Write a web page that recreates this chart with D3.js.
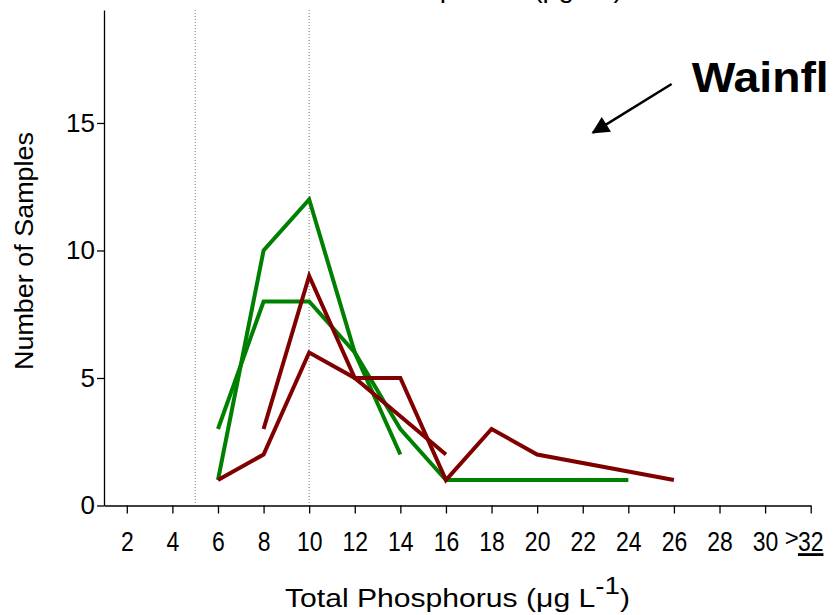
<!DOCTYPE html>
<html>
<head>
<meta charset="utf-8">
<script src="https://cdn.jsdelivr.net/npm/d3@7"></script>
<style>
body { margin: 0; background: #fff; }
svg { display: block; font-family: "Liberation Sans", Arial, sans-serif; }
</style>
</head>
<body>
<div class="chart"></div>
<script>
const width = 833;
const height = 615;
const margin = ({top: 10, right: 22, bottom: 110, left: 104});

// tick labels / reference lines
const xTicks = [2, 4, 6, 8, 10, 12, 14, 16, 18, 20, 22, 24, 26, 28, 30, 32];
const yTicks = [0, 5, 10, 15];
const refLines = [5, 10];

// series (TP class, number of samples)
const greenHighX = [6, 8, 10, 12, 14];
const greenHighY = [1, 10, 12, 6, 2];
const greenLowX = [6, 8, 10, 12, 14, 16, 18, 20, 22, 24];
const greenLowY = [3, 8, 8, 6, 3, 1, 1, 1, 1, 1];
const redHighX = [8, 10, 12, 14, 16, 18, 20, 26];
const redHighY = [3, 9, 5, 5, 1, 3, 2, 1];
const redLowX = [6, 8, 10, 12, 14, 16];
const redLowY = [1, 2, 6, 5, 3.5, 2];

const series = [
    {color: "#008000", x: greenHighX, y: greenHighY},
    {color: "#008000", x: greenLowX, y: greenLowY},
    {color: "#800000", x: redHighX, y: redHighY},
    {color: "#800000", x: redLowX, y: redLowY}
];

const xScale = d3.scaleLinear()
    .domain([1, 32])
    .range([margin.left, 810.7]);

const yScale = d3.scaleLinear()
    .domain([0, 19.43])
    .range([505.5, margin.top]);

const svg = d3.select('.chart').append('svg')
    .attr("width", width)
    .attr("height", height);

// dotted reference lines
svg.selectAll('.ref')
    .data(refLines)
    .enter()
    .append('line')
    .attr('x1', d => xScale(d))
    .attr('x2', d => xScale(d))
    .attr('y1', yScale(19.43))
    .attr('y2', yScale(0))
    .attr('stroke', '#777')
    .attr('stroke-width', 1)
    .attr('stroke-dasharray', '1,2');

const xAxis = d3.axisBottom(xScale)
    .tickValues(xTicks)
    .tickSize(8)
    .tickSizeOuter(0)
    .tickFormat(d => d === 32 ? "" : d);

const yAxis = d3.axisLeft(yScale)
    .tickValues(yTicks)
    .tickSize(7)
    .tickSizeOuter(0);

const gx = svg.append('g')
    .attr('transform', `translate(0,${yScale(0)})`)
    .call(xAxis);

// condensed tick labels like the original
gx.selectAll('text')
    .attr('y', 26)
    .attr('dy', '0.71em')
    .attr('fill', '#000')
    .style('font-size', '28px')
    .attr('transform', 'scale(0.82,1)');

const gy = svg.append('g')
    .attr('transform', `translate(${margin.left},0)`)
    .call(yAxis);

gy.selectAll('text')
    .attr('x', -9)
    .attr('fill', '#000')
    .style('font-size', '26px');

svg.selectAll('.domain, .tick line')
    .attr('stroke', '#000')
    .attr('stroke-width', 1.3);

// last label ">32" with underline
const lastX = xScale(32);
svg.append('text')
    .attr('x', lastX)
    .attr('y', 551)
    .attr('text-anchor', 'middle')
    .attr('transform', `translate(${lastX * 0.18},0) scale(0.82,1)`)
    .style('font-size', '28px')
    .style('text-decoration', 'underline')
    .text('32');
svg.append('text')
    .attr('x', lastX - 12)
    .attr('y', 546)
    .attr('text-anchor', 'end')
    .style('font-size', '24px')
    .text('>');

// data lines
const line = d3.line()
    .x(d => xScale(d[0]))
    .y(d => yScale(d[1]));

svg.selectAll('.series')
    .data(series)
    .enter()
    .append('path')
    .attr('fill', 'none')
    .attr('stroke', d => d.color)
    .attr('stroke-width', 4)
    .attr('stroke-linejoin', 'miter')
    .attr('d', d => line(d3.zip(d.x, d.y)));

// axis titles
svg.append('text')
    .attr('transform', 'translate(33,251) rotate(-90)')
    .attr('text-anchor', 'middle')
    .style('font-size', '26px')
    .attr('textLength', 238)
    .attr('lengthAdjust', 'spacingAndGlyphs')
    .text('Number of Samples');

const xTitle = svg.append('text')
    .attr('x', 285)
    .attr('y', 607)
    .style('font-size', '26px')
    .attr('textLength', 345)
    .attr('lengthAdjust', 'spacingAndGlyphs');
xTitle.append('tspan').text('Total Phosphorus (μg L');
xTitle.append('tspan').attr('dy', -13).style('font-size', '24px').text('-1');
xTitle.append('tspan').attr('dy', 13).text(')');

// title cut at top of picture
const topTitle = svg.append('text')
    .attr('x', 309)
    .attr('y', -3)
    .style('font-size', '28px');
topTitle.append('tspan').text('Total Phosphorus (μg L');
topTitle.append('tspan').attr('dy', -10).style('font-size', '18px').text('-1');
topTitle.append('tspan').attr('dy', 10).text(')');

// annotation
svg.append('defs').append('marker')
    .attr('id', 'arrow')
    .attr('viewBox', '0 0 10 10')
    .attr('refX', 9)
    .attr('refY', 5)
    .attr('markerWidth', 8)
    .attr('markerHeight', 7)
    .attr('orient', 'auto')
    .append('path')
    .attr('d', 'M0,0L10,5L0,10Z')
    .attr('fill', '#000');

svg.append('line')
    .attr('x1', xScale(25.9))
    .attr('y1', yScale(16.53))
    .attr('x2', xScale(22.45))
    .attr('y2', yScale(14.62))
    .attr('stroke', '#000')
    .attr('stroke-width', 2.5)
    .attr('marker-end', 'url(#arrow)');

svg.append('text')
    .attr('x', xScale(26.78))
    .attr('y', yScale(16.2))
    .style('font-size', '42px')
    .style('font-weight', 'bold')
    .attr('textLength', 137)
    .attr('lengthAdjust', 'spacingAndGlyphs')
    .text('Wainfl');
</script>
</body>
</html>
